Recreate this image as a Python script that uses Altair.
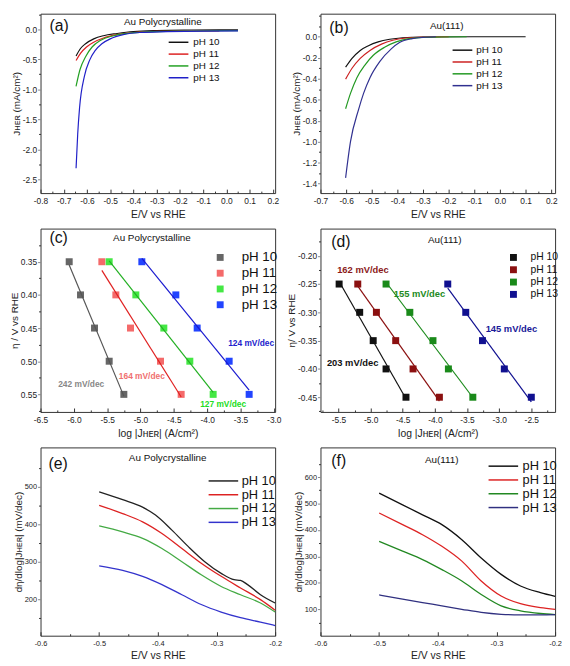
import altair as alt
import pandas as pd

FONT = "Liberation Sans"
PH = ["pH 10", "pH 11", "pH 12", "pH 13"]

# ---------------- (a) Au polycrystalline, J_HER vs E ----------------
A10_E = [-0.647, -0.628, -0.606, -0.571, -0.529, -0.470, -0.400, -0.300, -0.150, 0.050]
A10_J = [-0.445, -0.320, -0.240, -0.160, -0.107, -0.070, -0.037, -0.020, -0.012, -0.008]
A11_E = [-0.647, -0.628, -0.602, -0.571, -0.529, -0.472, -0.400, -0.300, -0.150, -0.030]
A11_J = [-0.520, -0.400, -0.295, -0.215, -0.145, -0.090, -0.054, -0.035, -0.028, -0.025]
A12_E = [-0.647, -0.630, -0.606, -0.578, -0.543, -0.486, -0.416, -0.300, -0.150, 0.050]
A12_J = [-0.950, -0.670, -0.456, -0.295, -0.188, -0.107, -0.064, -0.038, -0.028, -0.022]
A13_E = [-0.647, -0.640, -0.632, -0.611, -0.588, -0.564, -0.536, -0.500, -0.444, -0.373, -0.260, -0.100, 0.050]
A13_J = [-2.317, -1.750, -1.310, -0.780, -0.510, -0.350, -0.240, -0.160, -0.090, -0.054, -0.040, -0.030, -0.025]

# ---------------- (b) Au(111), J_HER vs E ----------------
B10_E = [-0.602, -0.577, -0.545, -0.513, -0.475, -0.430, -0.380, -0.300, -0.100, 0.100]
B10_J = [-0.290, -0.206, -0.130, -0.085, -0.049, -0.024, -0.009, -0.002, 0.000, 0.000]
B11_E = [-0.602, -0.577, -0.545, -0.507, -0.462, -0.418, -0.367, -0.300, -0.200]
B11_J = [-0.404, -0.300, -0.206, -0.130, -0.070, -0.033, -0.012, -0.003, 0.000]
B12_E = [-0.602, -0.583, -0.558, -0.526, -0.494, -0.450, -0.405, -0.354, -0.300, -0.130]
B12_J = [-0.686, -0.540, -0.390, -0.267, -0.176, -0.100, -0.049, -0.018, -0.005, 0.000]
B13_E = [-0.602, -0.583, -0.551, -0.532, -0.507, -0.469, -0.424, -0.392, -0.342, -0.300, -0.250]
B13_J = [-1.345, -1.000, -0.690, -0.540, -0.390, -0.237, -0.115, -0.055, -0.018, -0.006, 0.000]

# ---------------- (c) Au polycrystalline Tafel ----------------
C_ETA = [0.35, 0.40, 0.45, 0.50, 0.55]
C10 = [-6.07, -5.90, -5.69, -5.47, -5.25]
C11 = [-5.58, -5.37, -5.15, -4.70, -4.39]
C12 = [-5.47, -5.07, -4.65, -4.26, -3.91]
C13 = [-4.98, -4.47, -4.15, -3.67, -3.37]
C_NOTE_TXT = ["242 mV/dec", "164 mV/dec", "127 mV/dec", "124 mV/dec"]
C_NOTE_X = [-5.89, -4.98, -3.76, -3.34]
C_NOTE_Y = [0.535, 0.522, 0.564, 0.4725]

# ---------------- (d) Au(111) Tafel ----------------
D_ETA = [-0.25, -0.30, -0.35, -0.40, -0.45]
D10 = [-5.49, -5.17, -4.96, -4.76, -4.45]
D11 = [-5.20, -4.91, -4.61, -4.34, -3.93]
D12 = [-4.76, -4.39, -4.03, -3.79, -3.41]
D13 = [-3.80, -3.52, -3.26, -2.92, -2.50]
D_NOTE_TXT = ["203 mV/dec", "162 mV/dec", "155 mV/dec", "145 mV/dec"]
D_NOTE_X = [-5.28, -5.12, -4.24, -2.81]
D_NOTE_Y = [-0.389, -0.225, -0.268, -0.329]

# ---------------- (e) Au polycrystalline, Tafel slope vs E ----------------
EF_E = [-0.500, -0.460, -0.426, -0.393, -0.359, -0.326, -0.292, -0.259, -0.225, -0.200]
E10_E = [-0.500, -0.460, -0.426, -0.404, -0.376, -0.348, -0.320, -0.292, -0.270, -0.259, -0.247, -0.225, -0.200]
E10 = [486, 465, 445, 424, 384, 340, 300, 269, 252, 250, 239, 212, 190]
E11 = [450, 428, 406, 375, 335, 296, 261, 230, 199, 171]
E12 = [395, 379, 362, 335, 300, 265, 234, 212, 190, 166]
E13 = [289, 277, 261, 239, 212, 186, 166, 151, 139, 130]

# ---------------- (f) Au(111), Tafel slope vs E ----------------
F10 = [539, 495, 457, 420, 363, 294, 232, 188, 163, 149]
F11 = [464, 420, 382, 338, 282, 207, 150, 121, 106, 100]
F12 = [357, 320, 288, 250, 207, 156, 113, 94, 84, 80]
F13 = [154, 138, 125, 113, 100, 88, 81, 79, 79, 80]

# colours
COL_A = ["#111111", "#dd2020", "#22a022", "#2020c8"]
COL_B = ["#111111", "#cc2020", "#229922", "#303090"]
COL_C_PT = ["#666666", "#f46a6a", "#44e844", "#2244ff"]
COL_C_LN = ["#555555", "#e02020", "#22b022", "#1a1ad0"]
COL_C_NOTE = ["#888888", "#f07070", "#22dd22", "#2222cc"]
COL_D = ["#111111", "#8b1010", "#1a8a1a", "#101090"]
COL_D_NOTE = ["#111111", "#8b1a1a", "#228b22", "#1a1a99"]
COL_E = ["#222222", "#dd2222", "#44aa44", "#3333cc"]
COL_F = ["#111111", "#dd2222", "#228822", "#303080"]

# tick values
A_XT = [-0.8, -0.7, -0.6, -0.5, -0.4, -0.3, -0.2, -0.1, 0.0, 0.1, 0.2]
A_XM = [-0.75, -0.65, -0.55, -0.45, -0.35, -0.25, -0.15, -0.05, 0.05, 0.15]
A_YT = [-2.5, -2.0, -1.5, -1.0, -0.5, 0.0]
A_YM = [-2.25, -1.75, -1.25, -0.75, -0.25, 0.25]
B_XT = [-0.7, -0.6, -0.5, -0.4, -0.3, -0.2, -0.1, 0.0, 0.1, 0.2]
B_XM = [-0.65, -0.55, -0.45, -0.35, -0.25, -0.15, -0.05, 0.05, 0.15]
B_YT = [-1.4, -1.2, -1.0, -0.8, -0.6, -0.4, -0.2, 0.0]
B_YM = [-1.3, -1.1, -0.9, -0.7, -0.5, -0.3, -0.1, 0.1, 0.2]
C_XT = [-6.5, -6.0, -5.5, -5.0, -4.5, -4.0, -3.5, -3.0]
C_XM = [-6.25, -5.75, -5.25, -4.75, -4.25, -3.75, -3.25]
C_YT = [0.35, 0.40, 0.45, 0.50, 0.55]
C_YM = [0.325, 0.375, 0.425, 0.475, 0.525, 0.575]
D_XT = [-5.5, -5.0, -4.5, -4.0, -3.5, -3.0, -2.5]
D_XM = [-5.75, -5.25, -4.75, -4.25, -3.75, -3.25, -2.75, -2.25]
D_YT = [-0.45, -0.40, -0.35, -0.30, -0.25, -0.20]
D_YM = [-0.475, -0.425, -0.375, -0.325, -0.275, -0.225, -0.175]
E_XT = [-0.6, -0.5, -0.4, -0.3, -0.2]
E_XM = [-0.55, -0.45, -0.35, -0.25]
E_YT = [200, 300, 400, 500]
E_YM = [150, 250, 350, 450, 550]
F_YT = [100, 200, 300, 400, 500, 600]
F_YM = [50, 150, 250, 350, 450, 550, 650]

W = 238
H1, H2, H3 = 182, 186, 191
TXT = "#222222"
LINE20 = "M-2.5,0H2.5"    # 20 px legend line at symbolSize 64
LINE30 = "M-3.75,0H3.75"  # 30 px legend line at symbolSize 64


def long_df(e_lists, v_lists):
    rows = []
    for ph, es, vs in zip(PH, e_lists, v_lists):
        for e, v in zip(es, vs):
            rows.append({"x": e, "y": v, "pH": ph})
    return pd.DataFrame(rows)


def tafel_df(eta, series):
    rows = []
    for ph, xs in zip(PH, series):
        for x, y in zip(xs, eta):
            rows.append({"x": x, "y": y, "pH": ph})
    return pd.DataFrame(rows)


def scales(xdom, ydom, yrev=False):
    xs = alt.Scale(domain=xdom, nice=False, zero=False)
    ys = alt.Scale(domain=ydom, nice=False, zero=False, reverse=yrev)
    return xs, ys


def main_axes(xt, yt, xfmt, yfmt, xtitle, ytitle, lsize):
    xa = alt.Axis(orient="bottom", values=xt, format=xfmt, title=xtitle, ticks=False,
                  domain=False, grid=False, labelFontSize=lsize, labelPadding=4,
                  titleFontSize=10.5, titlePadding=4, labelFlush=False, labelOverlap=False)
    ya = alt.Axis(orient="left", values=yt, format=yfmt, title=ytitle, ticks=True,
                  tickSize=3, domain=False, grid=False, labelFontSize=lsize, labelPadding=1,
                  titleFontSize=10, titlePadding=1, labelFlush=False, labelOverlap=False)
    return xa, ya


def tick_layers(xs, ys, xdom, ydom, xt, xm, ym):
    dummy = pd.DataFrame({"x": [xdom[0]], "y": [ydom[0]]})

    def ax(orient, values, size, offset):
        return alt.Axis(orient=orient, values=values, labels=False, domain=False,
                        grid=False, title=None, ticks=True, tickSize=size,
                        offset=offset, tickColor="#333333", tickWidth=1)

    l1 = alt.Chart(dummy).mark_point(opacity=0, size=1).encode(
        x=alt.X("x:Q", scale=xs, axis=ax("bottom", xt, 4, -4)),
        y=alt.Y("y:Q", scale=ys, axis=ax("left", ym, 2, 0)),
    )
    l2 = alt.Chart(dummy).mark_point(opacity=0, size=1).encode(
        x=alt.X("x:Q", scale=xs, axis=ax("bottom", xm, 2, -2)),
        y=alt.Y("y:Q", scale=ys, axis=None),
    )
    return [l1, l2]


def label_layers(tag, tag_xy, name, name_xy):
    one = pd.DataFrame({"k": [0]})
    t1 = alt.Chart(one).mark_text(text=tag, fontSize=16, align="left", baseline="middle",
                                  color="#111111").encode(
        x=alt.value(tag_xy[0]), y=alt.value(tag_xy[1]))
    t2 = alt.Chart(one).mark_text(text=name, fontSize=10, align="center", baseline="middle",
                                  color="#111111").encode(
        x=alt.value(name_xy[0]), y=alt.value(name_xy[1]))
    return [t1, t2]


def line_panel(df, cols, xdom, ydom, xt, xm, yt, ym, xfmt, yfmt, xtitle, ytitle, lsize,
               leg, tag, tag_xy, name, name_xy, height, sw=1.3):
    xs, ys = scales(xdom, ydom)
    xa, ya = main_axes(xt, yt, xfmt, yfmt, xtitle, ytitle, lsize)
    legend = alt.Legend(orient="none", legendX=leg[0], legendY=leg[1], title=None,
                        padding=0, symbolType=leg[2], symbolSize=64, symbolStrokeWidth=1.5,
                        labelFontSize=leg[3], rowPadding=leg[4], labelOffset=leg[5],
                        labelColor="#111111")
    lines = alt.Chart(df).mark_line(strokeWidth=sw, interpolate="monotone").encode(
        x=alt.X("x:Q", scale=xs, axis=xa),
        y=alt.Y("y:Q", scale=ys, axis=ya),
        color=alt.Color("pH:N", scale=alt.Scale(domain=PH, range=cols), legend=legend),
        order=alt.Order("x:Q"),
    )
    layers = [lines] + tick_layers(xs, ys, xdom, ydom, xt, xm, ym) + label_layers(tag, tag_xy, name, name_xy)
    return alt.layer(*layers).resolve_axis(x="independent", y="independent").properties(
        width=W, height=height)


def tafel_panel(df, pt_cols, ln_cols, note_txt, note_x, note_y, note_cols, note_size,
                xdom, ydom, yrev, xt, xm, yt, ym, xtitle, ytitle, leg,
                tag, tag_xy, name, name_xy, height):
    xs, ys = scales(xdom, ydom, yrev)
    xa, ya = main_axes(xt, yt, ".1f", ".2f", xtitle, ytitle, 8.5)
    legend = alt.Legend(orient="none", legendX=leg[0], legendY=leg[1], title=None,
                        padding=0, symbolType="square", symbolSize=leg[2], symbolStrokeWidth=0,
                        labelFontSize=leg[3], rowPadding=leg[4], labelOffset=leg[5],
                        labelColor="#111111")
    pts = alt.Chart(df).mark_point(shape="square", filled=True, size=50, opacity=1).encode(
        x=alt.X("x:Q", scale=xs, axis=xa),
        y=alt.Y("y:Q", scale=ys, axis=ya),
        color=alt.Color("pH:N", scale=alt.Scale(domain=PH, range=pt_cols), legend=legend),
    )
    fits = []
    for ph, c in zip(PH, ln_cols):
        fits.append(alt.Chart(df).transform_filter(alt.datum.pH == ph).transform_regression(
            "x", "y").mark_line(strokeWidth=1.2, color=c).encode(
            x=alt.X("x:Q", scale=xs, axis=None),
            y=alt.Y("y:Q", scale=ys, axis=None),
        ))
    notes = []
    for t, nx, ny, c in zip(note_txt, note_x, note_y, note_cols):
        nd = pd.DataFrame({"x": [nx], "y": [ny], "t": [t]})
        notes.append(alt.Chart(nd).mark_text(fontSize=note_size, fontWeight="bold", color=c,
                                             align="center", baseline="middle").encode(
            x=alt.X("x:Q", scale=xs, axis=None),
            y=alt.Y("y:Q", scale=ys, axis=None),
            text="t:N",
        ))
    layers = [pts] + fits + notes + tick_layers(xs, ys, xdom, ydom, xt, xm, ym) + label_layers(tag, tag_xy, name, name_xy)
    return alt.layer(*layers).resolve_axis(x="independent", y="independent").properties(
        width=W, height=height)


J_TITLE = "Jʜᴇʀ (mA/cm²)"
E_TITLE = "E/V vs RHE"
LOGJ_TITLE = "log |Jʜᴇʀ| (A/cm²)"
SLOPE_TITLE = "dη/dlog|Jʜᴇʀ| (mV/dec)"

pa = line_panel(long_df([A10_E, A11_E, A12_E, A13_E], [A10_J, A11_J, A12_J, A13_J]), COL_A,
                [-0.8, 0.21], [-2.73, 0.26], A_XT, A_XM, A_YT, A_YM, ".1f", ".1f",
                E_TITLE, J_TITLE, 8.5, (135, 24, LINE20, 10, 2, 10), "(a)", (9, 13),
                "Au Polycrystalline", (124, 8), H1, 1.2)
pb = line_panel(long_df([B10_E, B11_E, B12_E, B13_E], [B10_J, B11_J, B12_J, B13_J]), COL_B,
                [-0.7, 0.215], [-1.49, 0.22], B_XT, B_XM, B_YT, B_YM, ".1f", ".1f",
                E_TITLE, J_TITLE, 8.5, (139, 32, LINE20, 10, 2, 9), "(b)", (9, 15),
                "Au(111)", (128, 13), H1, 1.2)
pc = tafel_panel(tafel_df(C_ETA, [C10, C11, C12, C13]), COL_C_PT, COL_C_LN,
                 C_NOTE_TXT, C_NOTE_X, C_NOTE_Y, COL_C_NOTE, 8.5,
                 [-6.5, -2.98], [0.30, 0.5765], True, C_XT, C_XM, C_YT, C_YM,
                 LOGJ_TITLE, "η / V vs RHE", (175.5, 22.5, 49, 13.5, 1, 15), "(c)", (9, 10),
                 "Au Polycrystalline", (113, 10), H2)
pd_ = tafel_panel(tafel_df(D_ETA, [D10, D11, D12, D13]), COL_D, COL_D,
                  D_NOTE_TXT, D_NOTE_X, D_NOTE_Y, COL_D_NOTE, 9.5,
                  [-5.78, -2.13], [-0.476, -0.152], False, D_XT, D_XM, D_YT, D_YM,
                  LOGJ_TITLE, "η/ V vs RHE", (190.5, 24, 49, 10.5, 1.5, 12), "(d)", (11, 14),
                  "Au(111)", (126, 12), H2)
pe = line_panel(long_df([E10_E, EF_E, EF_E, EF_E], [E10, E11, E12, E13]), COL_E,
                [-0.6, -0.2], [103, 604], E_XT, E_XM, E_YT, E_YM, ".1f", "d",
                E_TITLE, SLOPE_TITLE, 7.5, (179, 27.5, LINE30, 13, 0, 12), "(e)", (8, 17),
                "Au Polycrystalline", (129, 11), H3, 1.3)
pf = line_panel(long_df([EF_E, EF_E, EF_E, EF_E], [F10, F11, F12, F13]), COL_F,
                [-0.6, -0.2], [0, 712], E_XT, E_XM, F_YT, F_YM, ".1f", "d",
                E_TITLE, SLOPE_TITLE, 7.5, (179, 12.5, LINE30, 13, 0, 13), "(f)", (11, 14),
                "Au(111)", (123, 13), H3, 1.3)

chart = alt.concat(pa, pb, pc, pd_, pe, pf, columns=2,
                   spacing={"row": 36, "column": 46}, bounds="flush").resolve_scale(
    color="independent").properties(
    padding={"left": 0, "top": 0, "right": 0, "bottom": 2}
).configure(
    font=FONT,
    locale={"number": {"decimal": ".", "thousands": ",", "grouping": [3],
                       "currency": ["", ""], "minus": "-"}},
).configure_view(
    stroke="#333333", strokeWidth=1
).configure_axis(
    labelColor=TXT, titleColor=TXT, labelFont=FONT, titleFont=FONT, titleFontWeight="normal"
).configure_legend(labelFont=FONT).configure_text(font=FONT)

chart.save("out.html", embed_options={"renderer": "svg", "actions": False})
